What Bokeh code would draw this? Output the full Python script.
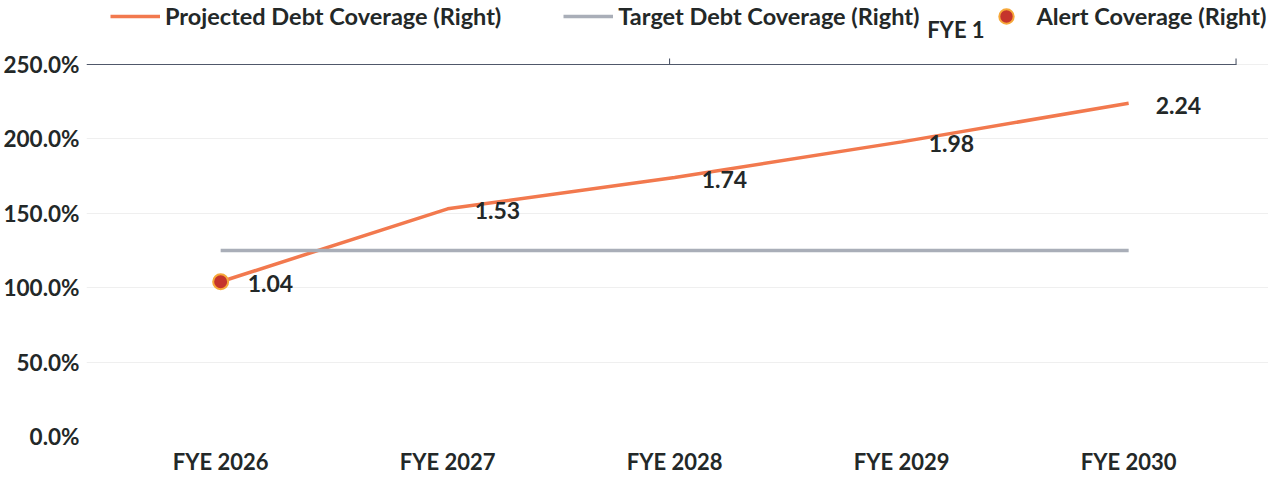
from bokeh.plotting import figure
from bokeh.models import (Range1d, FixedTicker, NumeralTickFormatter, Label,
                          ColumnDataSource, Legend, LegendItem)
from bokeh.core.properties import value
from bokeh.embed import file_html
from bokeh.resources import INLINE

# ---- data ----
categories = ["FYE 2026", "FYE 2027", "FYE 2028", "FYE 2029", "FYE 2030"]
projected = [1.04, 1.53, 1.74, 1.98, 2.24]
target = [1.25, 1.25, 1.25, 1.25, 1.25]
alert_categories = ["FYE 2026"]
alert_values = [1.04]
y_ticks = [0.0, 0.5, 1.0, 1.5, 2.0, 2.5]
top_label = "FYE 1"

FONT = "Lato"
TXT = "#232828"
AXIS_C = "#50586a"

xs = list(range(len(categories)))
x_of = {c: i for i, c in enumerate(categories)}

src = ColumnDataSource(dict(x=xs, proj=projected, tgt=target,
                            lbl=[f"{v:.2f}" for v in projected]))
alert_src = ColumnDataSource(dict(x=[x_of[c] for c in alert_categories], y=alert_values))

# layout constants
FRAME_H = 436
FRAME_W = 1182
PX_PER_UNIT = 148.8
PX_PER_CAT = 227.0
x_start = -0.591
axis_end = x_start + 1150 / PX_PER_CAT          # right end of the plotted area
y_top = y_ticks[-1]
y_end = FRAME_H / PX_PER_UNIT
xr = Range1d(x_start, x_start + FRAME_W / PX_PER_CAT)

p = figure(frame_width=FRAME_W, frame_height=FRAME_H, output_backend="svg", toolbar_location=None,
           x_range=xr, y_range=Range1d(0, y_end),
           min_border_left=80, min_border_right=0, min_border_top=0, min_border_bottom=28,
           outline_line_color=None)

# axes
p.xaxis.ticker = FixedTicker(ticks=xs)
p.xaxis.major_label_overrides = {i: c for i, c in enumerate(categories)}
p.xaxis.axis_line_color = None
p.xaxis.major_tick_line_color = None
p.xaxis.minor_tick_line_color = None
p.xaxis.major_tick_out = 0
p.xaxis.minor_tick_out = 0
p.xaxis.major_label_standoff = 11
p.xaxis.major_label_text_font = FONT
p.xaxis.major_label_text_font_style = "bold"
p.xaxis.major_label_text_font_size = "22px"
p.xaxis.major_label_text_color = TXT

p.yaxis.ticker = FixedTicker(ticks=y_ticks)
p.yaxis.formatter = NumeralTickFormatter(format="0.0%")
p.yaxis.axis_line_color = None
p.yaxis.major_tick_line_color = None
p.yaxis.minor_tick_line_color = None
p.yaxis.major_tick_out = 0
p.yaxis.minor_tick_out = 0
p.yaxis.major_label_standoff = 7
p.yaxis.major_label_text_font = FONT
p.yaxis.major_label_text_font_style = "bold"
p.yaxis.major_label_text_font_size = "22.5px"
p.yaxis.major_label_text_color = TXT

p.xgrid.grid_line_color = None
p.ygrid.grid_line_color = "#efefef"
p.ygrid.grid_line_width = 1

# top secondary axis (line, tick marks, single category label)
tick_h = 6 / PX_PER_UNIT
x_mid = x_start + 0.507 * (axis_end - x_start)
x_right = axis_end - 0.002
p.segment(x0=[x_start, x_mid, x_right], y0=[y_top, y_top, y_top],
          x1=[axis_end, x_mid, x_right], y1=[y_top, y_top + tick_h, y_top + tick_h],
          line_color=AXIS_C, line_width=1.1)
p.add_layout(Label(x=x_start + 0.756 * (axis_end - x_start), y=y_top + 35 / PX_PER_UNIT,
                   text=top_label, text_align="center", text_baseline="middle",
                   text_font=FONT, text_font_style="bold", text_font_size="22px",
                   text_color=TXT))

# series
r_proj = p.line("x", "proj", source=src, line_color="#f2794e", line_width=3.5)
r_tgt = p.line("x", "tgt", source=src, line_color="#a9aeb8", line_width=3.5)
r_alert = p.scatter("x", "y", source=alert_src, size=15, marker="circle",
                    fill_color="#c5342c", line_color="#f6a83a", line_width=2)

p.text("x", "proj", text="lbl", source=src, x_offset=27, y_offset=2,
       text_align="left", text_baseline="middle",
       text_font=value(FONT), text_font_style="bold", text_font_size="23px",
       text_color=TXT)

legend = Legend(items=[
    LegendItem(label="Projected Debt Coverage (Right)", renderers=[r_proj]),
    LegendItem(label="Target Debt Coverage (Right)", renderers=[r_tgt]),
    LegendItem(label="Alert Coverage (Right)", renderers=[r_alert]),
], orientation="horizontal", location=(24, 402),
    glyph_width=50, glyph_height=36, label_standoff=5, spacing=62,
    padding=0, margin=0, border_line_alpha=0, background_fill_alpha=0,
    label_text_font=FONT, label_text_font_style="bold", label_text_font_size="23.5px",
    label_text_color=TXT)
p.add_layout(legend, "center")

open("out.html", "w").write(file_html(p, INLINE))
